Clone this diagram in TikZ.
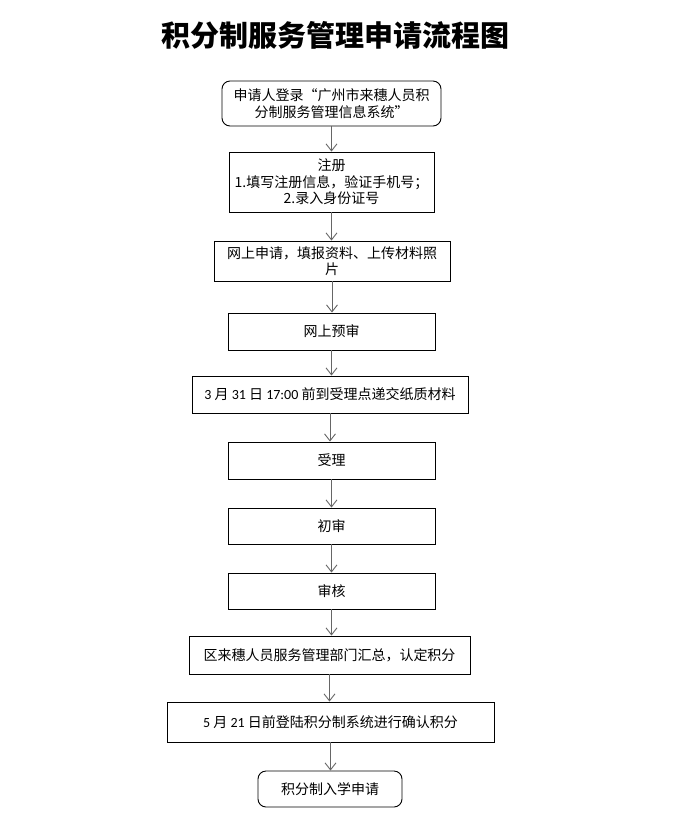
\documentclass[tikz,border=0pt]{standalone}
\usepackage{fontspec}
\setmainfont{Noto Sans CJK SC}
\newfontfamily\cjk{Noto Sans CJK SC}
\newfontfamily\lat{Carlito}
\usetikzlibrary{arrows.meta}
\begin{document}
\begin{tikzpicture}[x=1pt,y=-1pt,
  box/.style={draw=black,line width=0.9pt,align=center,inner sep=0pt,
    font=\cjk\fontsize{14}{16.5}\selectfont},
  rbox/.style={box,rounded corners=8pt},
  arr/.style={draw=black!60,line width=0.9pt,-{Straight Barb[length=7pt,width=11pt,line width=0.9pt]}}]
\useasboundingbox[fill=white] (0,0) rectangle (673,831);
\node[font=\cjk\bfseries\fontsize{29}{32}\selectfont] (title) at (335,35) {积分制服务管理申请流程图};
\node[rbox,minimum width=219pt,minimum height=45pt] (n1) at (331.5,103.5) {申请人登录“广州市来穗人员积\\分制服务管理信息系统”};
\node[box,minimum width=205pt,minimum height=60pt] (n2) at (331.5,182) {注册\\1.填写注册信息，验证手机号；\\2.录入身份证号};
\node[box,minimum width=236pt,minimum height=40pt] (n3) at (332,261) {网上申请，填报资料、上传材料照\\片};
\node[box,minimum width=207pt,minimum height=37pt] (n4) at (331.5,331.5) {网上预审};
\node[box,minimum width=276pt,minimum height=37pt] (n5) at (330,394.5) {{\lat 3} 月 {\lat 31} 日 {\lat 17:00} 前到受理点递交纸质材料};
\node[box,minimum width=207pt,minimum height=37pt] (n6) at (331.5,460.5) {受理};
\node[box,minimum width=207pt,minimum height=36pt] (n7) at (331.5,526) {初审};
\node[box,minimum width=207pt,minimum height=36pt] (n8) at (331.5,591) {审核};
\node[box,minimum width=281pt,minimum height=38pt] (n9) at (329.5,655) {区来穗人员服务管理部门汇总，认定积分};
\node[box,minimum width=327pt,minimum height=40pt] (n10) at (330.5,722) {{\lat 5} 月 {\lat 21} 日前登陆积分制系统进行确认积分};
\node[rbox,minimum width=144pt,minimum height=36pt] (n11) at (330,789) {积分制入学申请};
\foreach \a/\b in {n1/n2,n2/n3,n3/n4,n4/n5,n5/n6,n6/n7,n7/n8,n8/n9,n9/n10,n10/n11}
  \draw[arr] (\a.south) -- (\a.south |- \b.north);
\end{tikzpicture}
\end{document}
